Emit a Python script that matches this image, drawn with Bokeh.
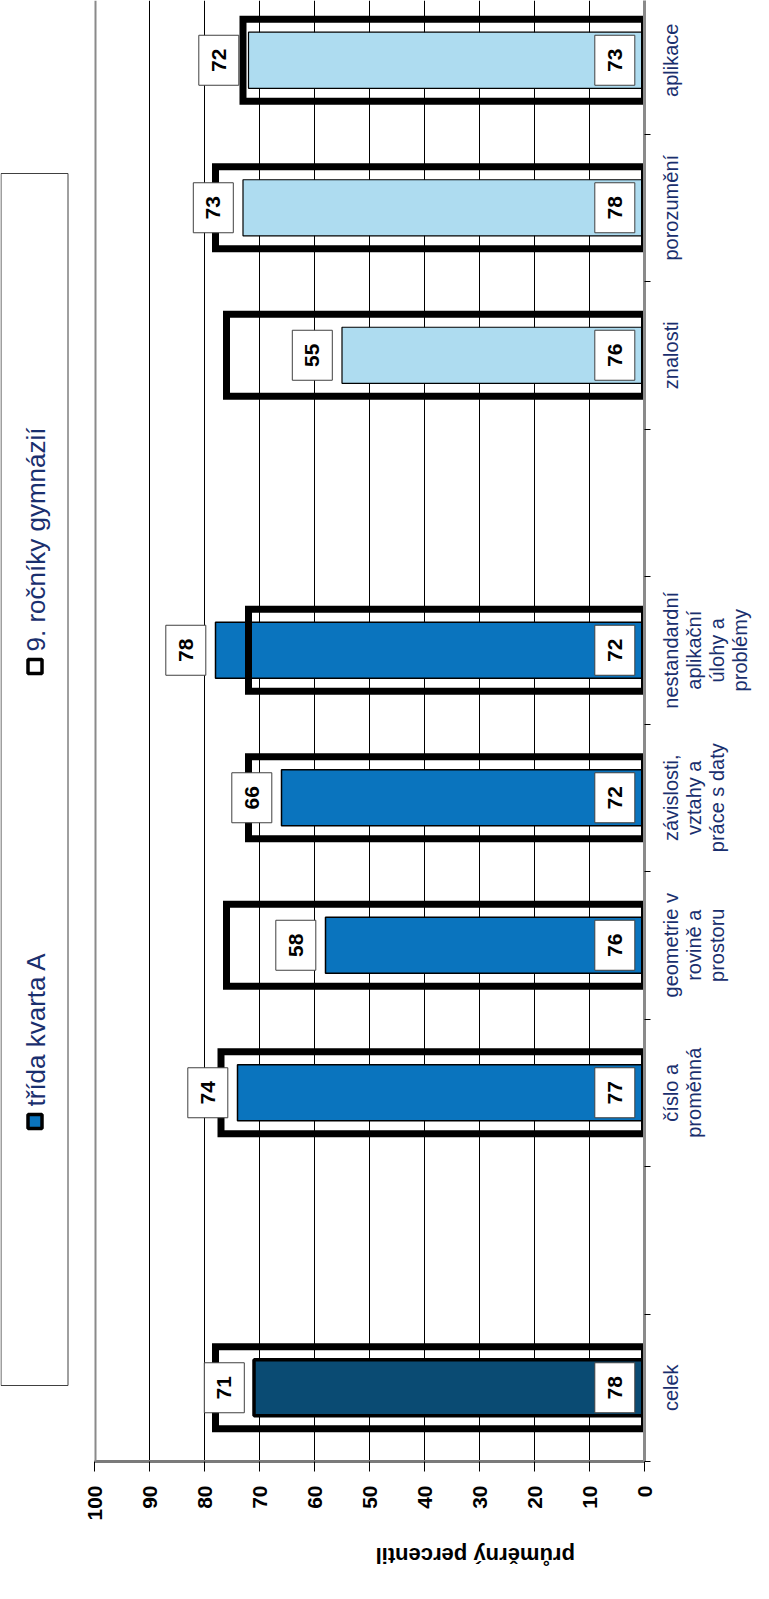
import math
from bokeh.plotting import figure
from bokeh.models import Range1d, FixedTicker, ColumnDataSource, Span
from bokeh.layouts import row
from bokeh.embed import file_html
from bokeh.resources import INLINE
from bokeh.core.properties import value

# ---------------- data ----------------
categories = ["celek", "", "číslo a\nproměnná", "geometrie v\nrovině a\nprostoru",
              "závislosti,\nvztahy a\npráce s daty",
              "nestandardní\naplikační\núlohy a\nproblémy",
              "", "znalosti", "porozumění", "aplikace"]
trida = [71, None, 74, 58, 66, 78, None, 55, 73, 72]          # třída kvarta A
gymnazia = [78, None, 77, 76, 72, 72, None, 76, 78, 73]       # 9. ročníky gymnázií
groups = ["celek", None, "oblast", "oblast", "oblast", "oblast", None,
          "kategorie", "kategorie", "kategorie"]
value_ticks = [0, 10, 20, 30, 40, 50, 60, 70, 80, 90, 100]
series_names = ["třída  kvarta A", "9. ročníky gymnázií"]
axis_title = "průměrný  percentil"

# ---------------- styles / layout ----------------
group_colors = {"celek": "#0A4B73", "oblast": "#0A74BE", "kategorie": "#AEDCF0"}
group_lw = {"celek": 3.5, "oblast": 1.5, "kategorie": 1.2}
FONT = "Liberation Sans"
NAVY = "#1a2f6e"
LABEL_GAP = 5.4          # label centre distance from bar end (value units)

PAGE_TOP = 8
FRAME_BOTTOM = 1469      # page px of the value axis
SLOT_PX = 147.5
FIG_H = 1583
BOTTOM_BORDER = FIG_H - (FRAME_BOTTOM - PAGE_TOP)
LEG_X0, LEG_X1 = 8, 88
MAIN_X1 = 664
CAT_X1 = 761

idx = [i for i, v in enumerate(trida) if v is not None]
src = ColumnDataSource(dict(
    y=[float(i) for i in idx],
    trida=[trida[i] for i in idx],
    gym=[gymnazia[i] for i in idx],
    color=[group_colors[groups[i]] for i in idx],
    lw=[group_lw[groups[i]] for i in idx],
    top_x=[trida[i] + LABEL_GAP for i in idx],
    base_x=[LABEL_GAP for i in idx],
    top_txt=[str(trida[i]) for i in idx],
    base_txt=[str(gymnazia[i]) for i in idx],
))
cat_src = ColumnDataSource(dict(y=[float(i) for i in idx], label=[categories[i] for i in idx]))

y_range = Range1d(-0.5, -0.5 + (FRAME_BOTTOM - PAGE_TOP) / SLOT_PX)

# ---------------- main chart ----------------
p = figure(width=MAIN_X1 - LEG_X1, height=FIG_H,
           x_range=Range1d(100, 0), y_range=y_range,
           output_backend="svg", toolbar_location=None,
           y_axis_location="right",
           min_border_left=14, min_border_right=12,
           min_border_top=0, min_border_bottom=BOTTOM_BORDER)
p.outline_line_color = None

p.xgrid.ticker = FixedTicker(ticks=value_ticks)
p.xgrid.grid_line_color = "black"
p.xgrid.grid_line_width = 1
p.ygrid.visible = False
p.add_layout(Span(location=100, dimension="height", line_color="#8a8a8a", line_width=4))

xa = p.xaxis[0]
xa.ticker = FixedTicker(ticks=value_ticks)
xa.axis_line_color = "#7a7a7a"
xa.axis_line_width = 3
xa.major_tick_out = 10
xa.major_tick_in = 0
xa.major_tick_line_color = "black"
xa.minor_tick_line_color = None
xa.major_label_orientation = math.pi / 2
xa.major_label_standoff = 14
xa.major_label_text_font = FONT
xa.major_label_text_font_style = "bold"
xa.major_label_text_font_size = "21px"
xa.major_label_text_color = "black"
xa.axis_label = axis_title
xa.axis_label_orientation = math.pi
xa.axis_label_standoff = 32
xa.axis_label_text_font = FONT
xa.axis_label_text_font_style = "bold"
xa.axis_label_text_font_size = "22px"
xa.axis_label_text_color = "black"

ya = p.yaxis[0]
ya.ticker = FixedTicker(ticks=[], minor_ticks=[k - 0.5 for k in range(len(categories) + 1)])
ya.axis_line_color = "#8a8a8a"
ya.axis_line_width = 3
ya.major_tick_out = 0
ya.major_tick_in = 0
ya.major_label_standoff = 0
ya.minor_tick_out = 6
ya.minor_tick_in = 0
ya.minor_tick_line_color = "black"

p.hbar(y="y", left=0, right="trida", height=0.38, source=src,
       fill_color="color", line_color="black", line_width="lw")
p.hbar(y="y", left=0, right="gym", height=0.556, source=src,
       fill_color=None, line_color="black", line_width=7, line_join="miter")

for xcol, tcol in (("top_x", "top_txt"), ("base_x", "base_txt")):
    p.rect(x=xcol, y="y", width=40, height=50, width_units="screen", height_units="screen",
           source=src, fill_color="white", line_color="#404040", line_width=1)
    p.text(x=xcol, y="y", text=tcol, source=src, angle=math.pi / 2,
           text_align="center", text_baseline="middle",
           text_font=value(FONT), text_font_style="bold", text_font_size="21px",
           text_color="black")

# ---------------- category labels strip (right) ----------------
cf = figure(width=CAT_X1 - MAIN_X1, height=FIG_H, x_range=Range1d(MAIN_X1, CAT_X1),
            y_range=y_range, output_backend="svg", toolbar_location=None,
            x_axis_type=None, y_axis_type=None,
            min_border_left=0, min_border_right=0, min_border_top=0,
            min_border_bottom=BOTTOM_BORDER)
cf.outline_line_color = None
cf.grid.visible = False
cf.text(x=667, y="y", text="label", source=cat_src, angle=math.pi / 2,
        text_align="center", text_baseline="top", text_line_height=1.05,
        text_font=value(FONT), text_font_size="20px", text_color=NAVY)

# ---------------- legend strip (left) ----------------
def py(page_y):
    return PAGE_TOP + FIG_H - page_y

lg = figure(width=LEG_X1 - LEG_X0, height=FIG_H, x_range=Range1d(LEG_X0, LEG_X1),
            y_range=Range1d(py(FRAME_BOTTOM), py(PAGE_TOP)),
            output_backend="svg", toolbar_location=None,
            x_axis_type=None, y_axis_type=None,
            min_border_left=0, min_border_right=0, min_border_top=0,
            min_border_bottom=BOTTOM_BORDER)
lg.outline_line_color = None
lg.grid.visible = False
lg.quad(left=8.5, right=75.5, top=py(181), bottom=py(1393),
        fill_color="white", line_color="#404040", line_width=1)
legend_colors = ["#0A74BE", "white"]
marker_y = [1129, 674]
for name, col, my in zip(series_names, legend_colors, marker_y):
    lg.rect(x=42.5, y=py(my), width=14, height=14, fill_color=col,
            line_color="black", line_width=3.5)
    lg.text(x=43, y=py(my - 15), text=[name], angle=math.pi / 2,
            text_align="left", text_baseline="middle",
            text_font=value(FONT), text_font_size="26px", text_color=NAVY)

layout = row(lg, p, cf, spacing=0)
open("out.html", "w").write(file_html(layout, INLINE))
